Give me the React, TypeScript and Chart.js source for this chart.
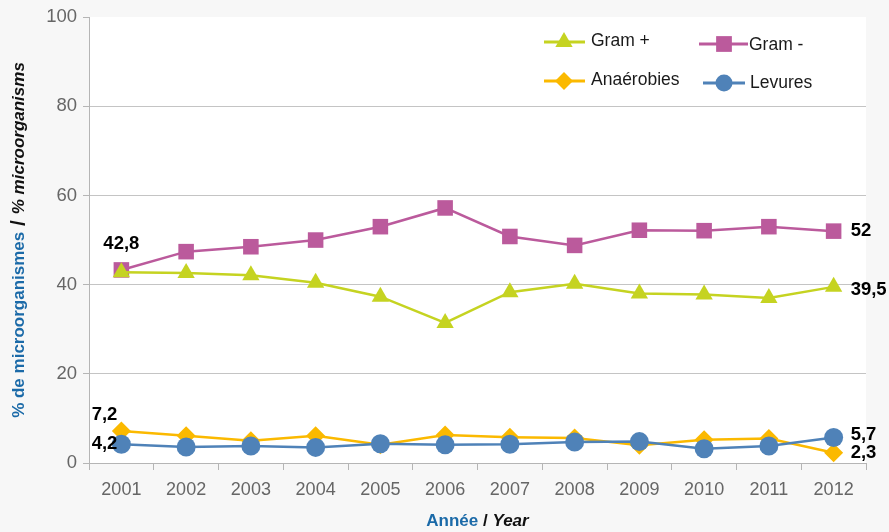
import React, { useEffect, useRef } from "react";
import { Chart, registerables } from "chart.js";

Chart.register(...registerables);

const years = ["2001", "2002", "2003", "2004", "2005", "2006", "2007", "2008", "2009", "2010", "2011", "2012"];
const gramPlus = [42.8, 42.6, 42.1, 40.4, 37.3, 31.4, 38.3, 40.2, 38.0, 37.8, 37.0, 39.5];
const gramMinus = [43.3, 47.4, 48.5, 50.0, 53.0, 57.2, 50.8, 48.8, 52.2, 52.1, 53.0, 52.0];
const anaerobies = [7.2, 6.1, 5.0, 6.1, 4.1, 6.3, 5.8, 5.6, 4.0, 5.2, 5.5, 2.3];
const levures = [4.2, 3.6, 3.8, 3.5, 4.3, 4.1, 4.2, 4.7, 4.8, 3.2, 3.8, 5.7];
const yTickMin = 0;
const yTickMax = 100;
const yTickStep = 20;

const seriesNames = ["Gram +", "Gram -", "Anaérobies", "Levures"];
const COLORS = ["#c5d321", "#bb5a9c", "#fbb900", "#4f82b8"];
const FONT = "'Liberation Sans', Arial, sans-serif";

const fmt = (v: number) => String(v).replace(".", ",");

function drawMarker(ctx: CanvasRenderingContext2D, shape: string, x: number, y: number, r: number, color: string) {
  ctx.save();
  ctx.fillStyle = color;
  ctx.beginPath();
  if (shape === "triangle") {
    ctx.moveTo(x, y - r);
    ctx.lineTo(x + r * 0.866, y + r * 0.5);
    ctx.lineTo(x - r * 0.866, y + r * 0.5);
    ctx.closePath();
  } else if (shape === "rect") {
    const s = r * 0.75;
    ctx.rect(x - s, y - s, 2 * s, 2 * s);
  } else if (shape === "rectRot") {
    ctx.moveTo(x, y - r);
    ctx.lineTo(x + r, y);
    ctx.lineTo(x, y + r);
    ctx.lineTo(x - r, y);
    ctx.closePath();
  } else {
    ctx.arc(x, y, r, 0, Math.PI * 2);
  }
  ctx.fill();
  ctx.restore();
}

const bgPlugin = {
  id: "bgPlugin",
  beforeDraw(chart: any) {
    const { ctx, chartArea: a, width, height } = chart;
    ctx.save();
    ctx.fillStyle = "#f7f7f7";
    ctx.fillRect(0, 0, width, height);
    ctx.fillStyle = "#ffffff";
    ctx.fillRect(a.left, a.top, a.right - a.left, a.bottom - a.top);
    ctx.restore();
  },
};

const decorPlugin = {
  id: "decorPlugin",
  afterDraw(chart: any) {
    const { ctx, chartArea: a } = chart;
    ctx.save();
    // Legend
    const shapes = ["triangle", "rect", "rectRot", "circle"];
    const legendItems = [
      { x1: 544, x2: 585, mx: 564, tx: 591, y: 42, ty: 41, r: 10 },
      { x1: 699, x2: 748, mx: 724, tx: 749, y: 44, ty: 45, r: 10.5 },
      { x1: 544, x2: 585, mx: 564, tx: 591, y: 81, ty: 80, r: 9 },
      { x1: 703, x2: 745, mx: 724, tx: 750, y: 83, ty: 83, r: 8.5 },
    ];
    legendItems.forEach((it, i) => {
      ctx.strokeStyle = COLORS[i];
      ctx.lineWidth = 3;
      ctx.beginPath();
      ctx.moveTo(it.x1, it.y);
      ctx.lineTo(it.x2, it.y);
      ctx.stroke();
      drawMarker(ctx, shapes[i], it.mx, it.y, it.r, COLORS[i]);
      ctx.fillStyle = "#1a1a1a";
      ctx.font = `17.5px ${FONT}`;
      ctx.textAlign = "left";
      ctx.textBaseline = "middle";
      ctx.fillText(seriesNames[i], it.tx, it.ty);
    });

    // Data labels
    const labels = [
      { ds: 0, i: 0, dx: 0, dy: -28, align: "center" },
      { ds: 2, i: 0, dx: -4, dy: -16, align: "right" },
      { ds: 3, i: 0, dx: -4, dy: 0, align: "right" },
      { ds: 1, i: 11, dx: 17, dy: 0, align: "left" },
      { ds: 0, i: 11, dx: 17, dy: 3, align: "left" },
      { ds: 3, i: 11, dx: 17, dy: -3, align: "left" },
      { ds: 2, i: 11, dx: 17, dy: 0, align: "left" },
    ];
    ctx.font = `bold 18.5px ${FONT}`;
    ctx.fillStyle = "#000";
    ctx.textBaseline = "middle";
    labels.forEach((l) => {
      const el = chart.getDatasetMeta(l.ds).data[l.i];
      const v = chart.data.datasets[l.ds].data[l.i];
      ctx.textAlign = l.align;
      ctx.fillText(fmt(v), el.x + l.dx, el.y + l.dy);
    });

    // X axis title
    const p1 = "Année";
    const p2 = " / ";
    const p3 = "Year";
    ctx.font = `bold 17px ${FONT}`;
    const w1 = ctx.measureText(p1).width;
    const w2 = ctx.measureText(p2).width;
    ctx.font = `italic bold 17px ${FONT}`;
    const w3 = ctx.measureText(p3).width;
    const cx = (a.left + a.right) / 2;
    let x = cx - (w1 + w2 + w3) / 2;
    const ty = 521;
    ctx.textAlign = "left";
    ctx.font = `bold 17px ${FONT}`;
    ctx.fillStyle = "#1b6aa8";
    ctx.fillText(p1, x, ty);
    x += w1;
    ctx.fillStyle = "#111";
    ctx.fillText(p2, x, ty);
    x += w2;
    ctx.font = `italic bold 17px ${FONT}`;
    ctx.fillText(p3, x, ty);

    // Y axis title
    const q1 = "% de microorganismes";
    const q2 = " / ";
    const q3 = "% microorganisms";
    ctx.font = `bold 17px ${FONT}`;
    const v1 = ctx.measureText(q1).width;
    ctx.font = `bold 21px ${FONT}`;
    const v2 = ctx.measureText(q2).width;
    ctx.font = `italic bold 17px ${FONT}`;
    const v3 = ctx.measureText(q3).width;
    ctx.translate(19, 240);
    ctx.rotate(-Math.PI / 2);
    let yx = -(v1 + v2 + v3) / 2;
    ctx.font = `bold 17px ${FONT}`;
    ctx.fillStyle = "#1b6aa8";
    ctx.fillText(q1, yx, 0);
    yx += v1;
    ctx.font = `bold 21px ${FONT}`;
    ctx.fillStyle = "#111";
    ctx.fillText(q2, yx, 0);
    yx += v2;
    ctx.font = `italic bold 17px ${FONT}`;
    ctx.fillText(q3, yx, 0);
    ctx.restore();
  },
};

export default function App() {
  const ref = useRef<HTMLCanvasElement>(null);
  useEffect(() => {
    if (!ref.current) return;
    const mk = (label: string, data: number[], color: string, style: string, radius: number, order: number) => ({
      label,
      data,
      borderColor: color,
      backgroundColor: color,
      pointBackgroundColor: color,
      pointBorderColor: color,
      pointBorderWidth: 0,
      pointStyle: style,
      pointRadius: radius,
      pointHoverRadius: radius,
      borderWidth: 2.5,
      tension: 0,
      order,
    });
    const chart = new Chart(ref.current, {
      type: "line",
      data: {
        labels: years,
        datasets: [
          mk(seriesNames[0], gramPlus, COLORS[0], "triangle", 10, 1),
          mk(seriesNames[1], gramMinus, COLORS[1], "rect", 11, 3),
          mk(seriesNames[2], anaerobies, COLORS[2], "rectRot", 9.5, 2),
          mk(seriesNames[3], levures, COLORS[3], "circle", 9.5, 0),
        ],
      },
      options: {
        animation: false,
        responsive: false,
        maintainAspectRatio: false,
        events: [],
        layout: { padding: { top: 16, right: 23, left: 0, bottom: 0 } },
        plugins: { legend: { display: false }, tooltip: { enabled: false } },
        scales: {
          x: {
            offset: true,
            grid: {
              display: true,
              drawOnChartArea: false,
              drawTicks: true,
              tickLength: 7,
              offset: true,
              color: "#b5b5b5",
              tickColor: "#b5b5b5",
            },
            border: { display: true, color: "#b5b5b5", width: 1 },
            ticks: { color: "#666666", font: { family: FONT, size: 18 }, padding: 9, maxRotation: 0 },
            afterFit: (s: any) => {
              s.height = 69;
            },
          },
          y: {
            min: yTickMin,
            max: yTickMax,
            ticks: { stepSize: yTickStep, color: "#666666", font: { family: FONT, size: 18.5 }, padding: 6 },
            grid: {
              color: (c: any) => (c.tick && (c.tick.value === yTickMax || c.tick.value === yTickMin) ? "rgba(0,0,0,0)" : "#c4c4c4"),
              tickColor: "#b5b5b5",
              tickLength: 6,
              lineWidth: 1,
            },
            border: { display: true, color: "#b5b5b5", width: 1 },
            afterFit: (s: any) => {
              s.width = 89;
            },
          },
        },
      },
      plugins: [bgPlugin, decorPlugin],
    });
    return () => chart.destroy();
  }, []);
  return (
    <div style={{ position: "absolute", left: 0, top: 0, width: 889, height: 532, background: "#f7f7f7" }}>
      <canvas ref={ref} width={889} height={532} style={{ width: 889, height: 532, display: "block" }} />
    </div>
  );
}
